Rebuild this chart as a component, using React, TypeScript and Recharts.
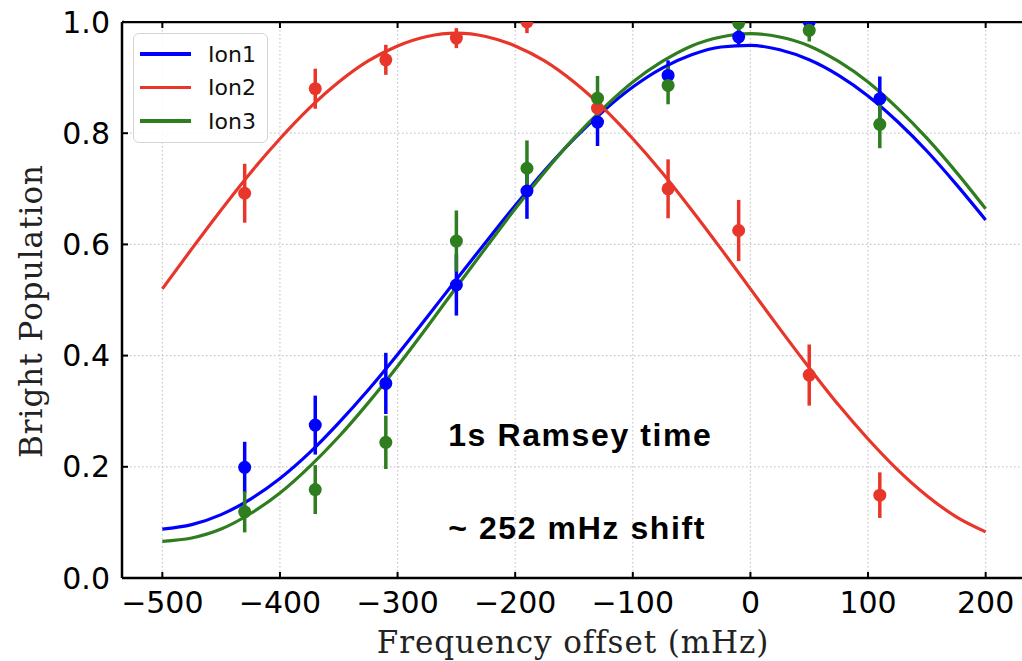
import React from 'react';
import {
  ComposedChart,
  Line,
  Scatter,
  ErrorBar,
  XAxis,
  YAxis,
  CartesianGrid,
  ReferenceDot,
} from 'recharts';

// fitted Ramsey fringes, every 25 mHz
const fitX = [
  -500, -475, -450, -425, -400, -375, -350, -325, -300, -275, -250, -225, -200, -175, -150,
  -125, -100, -75, -50, -25, 0, 25, 50, 75, 100, 125, 150, 175, 200,
];
const ion1Fit = [
  0.088, 0.096, 0.114, 0.142, 0.179, 0.225, 0.279, 0.338, 0.402, 0.469, 0.537, 0.604, 0.67,
  0.733, 0.79, 0.84, 0.883, 0.917, 0.941, 0.955, 0.958, 0.95, 0.932, 0.904, 0.867, 0.821, 0.768,
  0.708, 0.644,
];
const ion2Fit = [
  0.52, 0.592, 0.662, 0.729, 0.79, 0.845, 0.892, 0.93, 0.957, 0.974, 0.98, 0.974, 0.957, 0.93,
  0.892, 0.845, 0.79, 0.729, 0.662, 0.592, 0.52, 0.448, 0.378, 0.311, 0.25, 0.195, 0.148, 0.11,
  0.083,
];
const ion3Fit = [
  0.066, 0.072, 0.088, 0.116, 0.153, 0.2, 0.254, 0.315, 0.381, 0.451, 0.523, 0.594, 0.664, 0.73,
  0.791, 0.845, 0.892, 0.929, 0.957, 0.973, 0.979, 0.973, 0.957, 0.929, 0.892, 0.845, 0.791, 0.73,
  0.664,
];

// measured points with error bars
const measX = [-430, -370, -310, -250, -190, -130, -70, -10, 50, 110];
const ion1Meas = [0.199, 0.275, 0.35, 0.527, 0.696, 0.82, 0.904, 0.973, 1.0, 0.862];
const ion1Err = [0.046, 0.053, 0.055, 0.055, 0.05, 0.043, 0.027, 0.015, 0.02, 0.04];
const ion2Meas = [0.692, 0.88, 0.932, 0.971, 1.0, 0.845, 0.7, 0.625, 0.365, 0.149];
const ion2Err = [0.053, 0.036, 0.027, 0.018, 0.02, 0.03, 0.053, 0.055, 0.055, 0.041];
const ion3Meas = [0.119, 0.159, 0.244, 0.606, 0.737, 0.863, 0.886, 0.998, 0.985, 0.816];
const ion3Err = [0.037, 0.044, 0.048, 0.055, 0.05, 0.04, 0.034, 0.02, 0.02, 0.043];

const seriesNames = ['Ion1', 'Ion2', 'Ion3'];
const seriesColors = ['#0000ff', '#e8362a', '#2e7d1e'];

const xTicks = [-500, -400, -300, -200, -100, 0, 100, 200];
const yTicks = [0, 0.2, 0.4, 0.6, 0.8, 1.0];

const notes = ['1s Ramsey time', '~ 252 mHz shift'];

const fits = [ion1Fit, ion2Fit, ion3Fit].map((ys) => fitX.map((x, i) => ({ x, y: ys[i] })));
const meas = [
  [ion1Meas, ion1Err],
  [ion2Meas, ion2Err],
  [ion3Meas, ion3Err],
].map(([ys, es]) => measX.map((x, i) => ({ x, y: ys[i], err: es[i] })));

const tickFont = { fontFamily: '"DejaVu Sans", sans-serif', fontSize: 30, fill: '#000' };
const titleFont = '"DejaVu Serif", serif';
const noTick = () => <g />;

export default function App() {
  return (
    <div
      style={{
        position: 'absolute',
        left: 0,
        top: 0,
        width: 1022,
        height: 661,
        overflow: 'hidden',
        background: '#fff',
      }}
    >
      <ComposedChart width={1040} height={661} margin={{ top: 21, right: 6, left: 0, bottom: 0 }}>
        <CartesianGrid stroke="#c6c6c6" strokeWidth={1.2} strokeDasharray="1.5 2.5" />
        <XAxis
          dataKey="x"
          type="number"
          domain={[-534.3, 232.6]}
          ticks={xTicks}
          allowDataOverflow
          height={83}
          stroke="#000"
          axisLine={{ strokeWidth: 2.5 }}
          tickLine={{ strokeWidth: 2 }}
          tickSize={-6}
          tickMargin={20}
          tick={tickFont}
          tickFormatter={(v: number) => String(v).replace('-', '\u2212')}
          label={{
            content: ({ viewBox }: any) => (
              <text
                x={viewBox.x + viewBox.width / 2}
                y={viewBox.y + 75}
                textAnchor="middle"
                fontFamily={titleFont}
                fontSize={31}
                letterSpacing={0.9}
                fill="#222"
              >
                Frequency offset (mHz)
              </text>
            ),
          }}
        />
        <XAxis
          xAxisId="top"
          orientation="top"
          dataKey="x"
          type="number"
          domain={[-534.3, 232.6]}
          ticks={xTicks}
          allowDataOverflow
          height={1}
          stroke="#000"
          axisLine={{ strokeWidth: 2.5 }}
          tickLine={{ strokeWidth: 2 }}
          tickSize={-6}
          tick={noTick}
        />
        <YAxis
          type="number"
          domain={[0, 1]}
          ticks={yTicks}
          allowDataOverflow
          width={122}
          stroke="#000"
          axisLine={{ strokeWidth: 2.5 }}
          tickLine={{ strokeWidth: 2 }}
          tickSize={-6}
          tickMargin={18}
          tick={tickFont}
          tickFormatter={(v: number) => v.toFixed(1)}
          label={{
            content: ({ viewBox }: any) => {
              const cx = 42;
              const cy = viewBox.y + viewBox.height / 2 + 11;
              return (
                <text
                  x={cx}
                  y={cy}
                  transform={`rotate(-90 ${cx} ${cy})`}
                  textAnchor="middle"
                  fontFamily={titleFont}
                  fontSize={31}
                  letterSpacing={1}
                  fill="#222"
                >
                  Bright Population
                </text>
              );
            },
          }}
        />
        <YAxis
          yAxisId="right"
          orientation="right"
          type="number"
          domain={[0, 1]}
          ticks={yTicks}
          width={10}
          stroke="#000"
          axisLine={{ strokeWidth: 2.5 }}
          tickLine={{ strokeWidth: 2 }}
          tickSize={-6}
          tick={noTick}
        />

        {fits.map((d, i) => (
          <Line
            key={seriesNames[i]}
            data={d}
            dataKey="y"
            name={seriesNames[i]}
            type="monotone"
            stroke={seriesColors[i]}
            strokeWidth={3.2}
            dot={false}
            activeDot={false}
            isAnimationActive={false}
          />
        ))}
        {meas.map((d, i) => (
          <Scatter
            key={seriesNames[i] + '-pts'}
            data={d}
            dataKey="y"
            fill={seriesColors[i]}
            isAnimationActive={false}
            shape={(p: any) => <circle cx={p.cx} cy={p.cy} r={6.5} fill={seriesColors[i]} />}
          >
            <ErrorBar dataKey="err" direction="y" width={0} stroke={seriesColors[i]} strokeWidth={3.5} />
          </Scatter>
        ))}

        {[0.2374, 0.0701].map((y, i) => (
          <ReferenceDot
            key={notes[i]}
            x={-257}
            y={y}
            r={0}
            stroke="none"
            label={{
              content: ({ viewBox }: any) => (
                <text
                  x={viewBox.x}
                  y={viewBox.y}
                  fontFamily='"Liberation Sans", Arial, sans-serif'
                  fontWeight="bold"
                  fontSize={32}
                  letterSpacing={1.6}
                  fill="#000"
                >
                  {notes[i]}
                </text>
              ),
            }}
          />
        ))}
      </ComposedChart>

      {/* mask whatever spills above the top spine, like the axes clip in the original */}
      <div
        style={{
          position: 'absolute',
          left: 124,
          top: 0,
          width: 900,
          height: 20.7,
          background: '#fff',
        }}
      />

      <div
        style={{
          position: 'absolute',
          left: 133,
          top: 33,
          width: 133,
          height: 108,
          border: '1px solid #d4d4d4',
          borderRadius: 6,
          background: 'rgba(255,255,255,0.85)',
          fontFamily: '"DejaVu Sans", sans-serif',
          fontSize: 22,
          color: '#111',
        }}
      >
        {seriesNames.map((name, i) => (
          <div
            key={name}
            style={{
              position: 'absolute',
              left: 6,
              top: 4 + i * 33.5,
              height: 32,
              display: 'flex',
              alignItems: 'center',
            }}
          >
            <span
              style={{
                display: 'inline-block',
                width: 51,
                height: 3.6,
                background: seriesColors[i],
                marginRight: 17,
              }}
            />
            <span>{name}</span>
          </div>
        ))}
      </div>
    </div>
  );
}
